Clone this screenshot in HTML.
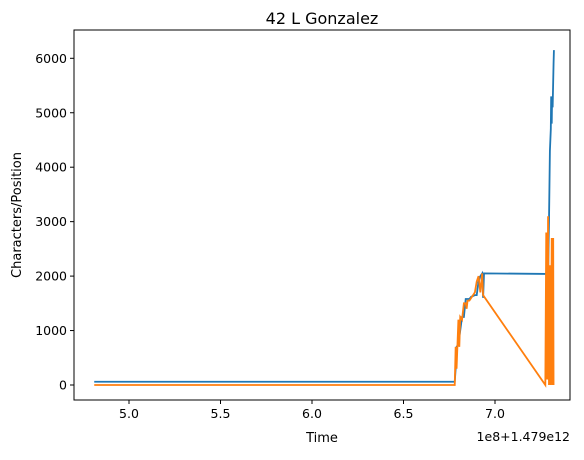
<!DOCTYPE html>
<html><head><meta charset="utf-8"><style>
body{margin:0;background:#fff;}
svg text{font-family:"DejaVu Sans","Liberation Sans",sans-serif;fill:#000;}
</style></head><body>
<svg id="chart" width="584" height="455" xmlns="http://www.w3.org/2000/svg">
<text x="322" y="24" font-size="16" text-anchor="middle">42 L Gonzalez</text>
<g id="axes"></g>
<g id="series"></g>
<rect x="74" y="30" width="496" height="370" fill="none" stroke="#000" stroke-width="1"/>
<text x="322" y="442" font-size="13" text-anchor="middle">Time</text>
<text x="21" y="215" font-size="13" text-anchor="middle" transform="rotate(-90 21 215)">Characters/Position</text>
<text x="570" y="441" font-size="12.5" text-anchor="end">1e8+1.479e12</text>
</svg>
<script>
const xTicks=[5.0,5.5,6.0,6.5,7.0];
const yTicks=[0,1000,2000,3000,4000,5000,6000];
const charX=[4.81,6.78,6.785,6.79,6.80,6.81,6.82,6.83,6.84,6.86,6.87,6.89,6.90,6.91,6.92,6.93,6.935,6.94,7.28,7.285,7.29,7.295,7.30,7.305,7.307,7.31,7.312,7.315,7.32,7.322];
const charY=[60,60,300,700,750,1000,1250,1250,1580,1580,1620,1650,1650,1900,2000,2050,1600,2050,2040,2250,2000,3000,4300,4700,5300,4800,5300,5100,5900,6150];
const posX=[4.81,6.78,6.785,6.79,6.80,6.805,6.81,6.82,6.83,6.84,6.845,6.85,6.86,6.87,6.88,6.89,6.90,6.91,6.92,6.93,6.935,7.275,7.28,7.285,7.29,7.295,7.30,7.305,7.31,7.315,7.318,7.32];
const posY=[0,0,700,300,1200,700,1250,1200,1500,1500,1400,1550,1550,1600,1650,1700,1900,2000,1700,2050,1650,0,2800,100,3100,0,2200,0,2700,0,2700,0];
const NS="http://www.w3.org/2000/svg";
function sx(v){return 129+(v-5)*183;}
function sy(v){return 385-v*0.05445;}
const axes=document.getElementById('axes');
xTicks.forEach(t=>{
 const l=document.createElementNS(NS,'line');
 
 
 l.setAttribute('x1',sx(t));l.setAttribute('x2',sx(t));l.setAttribute('y1',400);l.setAttribute('y2',404);l.setAttribute('stroke','#000');
 axes.appendChild(l);
 const tx=document.createElementNS(NS,'text');
 
 
 tx.setAttribute('x',sx(t));tx.setAttribute('y',418);tx.setAttribute('font-size','12.5');tx.setAttribute('text-anchor','middle');
 tx.textContent=t.toFixed(1);axes.appendChild(tx);
});
yTicks.forEach(t=>{
 const l=document.createElementNS(NS,'line');
 
 
 l.setAttribute('x1',70);l.setAttribute('x2',74);l.setAttribute('y1',sy(t));l.setAttribute('y2',sy(t));l.setAttribute('stroke','#000');
 axes.appendChild(l);
 const tx=document.createElementNS(NS,'text');
 
 
 tx.setAttribute('x',67);tx.setAttribute('y',sy(t)+4.5);tx.setAttribute('font-size','12.5');tx.setAttribute('text-anchor','end');
 tx.textContent=t;axes.appendChild(tx);
});
const ser=document.getElementById('series');
function line(xs,ys,color,name){
 const p=document.createElementNS(NS,'polyline');
 
 
 p.setAttribute('points',xs.map((x,i)=>sx(x)+','+sy(ys[i])).join(' '));
 p.setAttribute('fill','none');p.setAttribute('stroke',color);p.setAttribute('stroke-width','1.8');
 ser.appendChild(p);
}
line(charX,charY,'#1f77b4','characters-line');
line(posX,posY,'#ff7f0e','position-line');
</script>
</body></html>
